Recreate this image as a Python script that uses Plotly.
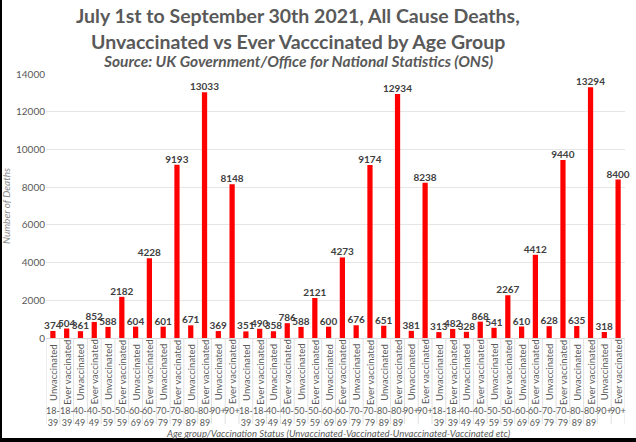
import plotly.graph_objects as go

# Deaths by age group and vaccination status, one block of 14 bars per month
months = ["July", "August", "September"]
age_groups = ["18-39", "40-49", "50-59", "60-69", "70-79", "80-89", "90+"]
statuses = ["Unvaccinated", "Ever vaccinated"]

deaths_july = [374, 504, 361, 852, 588, 2182, 604, 4228, 601, 9193, 671, 13033, 369, 8148]
deaths_august = [351, 490, 358, 786, 588, 2121, 600, 4273, 676, 9174, 651, 12934, 381, 8238]
deaths_september = [313, 482, 328, 868, 541, 2267, 610, 4412, 628, 9440, 635, 13294, 318, 8400]

y_ticks = [0, 2000, 4000, 6000, 8000, 10000, 12000, 14000]

W, H = 636, 442
ML, MR, MT, MB = 46, 11, 74, 104
PW, PH = W - ML - MR, H - MT - MB

GREY = "#595959"
FONT = "Lato"

values = deaths_july + deaths_august + deaths_september
status_labels = []
age_labels = []
for m in months:
    for age in age_groups:
        for s in statuses:
            status_labels.append(s)
            age_labels.append(age)
x = list(range(len(values)))

fig = go.Figure()
fig.add_trace(go.Bar(
    x=x, y=values,
    marker=dict(color="#FF0000", line=dict(width=0)),
    text=[str(v) for v in values],
    textposition="outside",
    constraintext="none",
    cliponaxis=False,
    textfont=dict(family=FONT, size=10, color="#404040", weight="bold"),
    hoverinfo="skip",
))

annotations = []
shapes = []
for i in x:
    # status label, rotated and centred in the tick band
    annotations.append(dict(
        x=i, xref="x", y=0, yref="paper", yshift=-34,
        text=status_labels[i], textangle=-90, showarrow=False,
        font=dict(family=FONT, size=9.5, color=GREY),
        xanchor="center", yanchor="middle",
    ))
    # age group label below
    a = age_labels[i]
    txt = a.replace("-", "-<br>") if "-" in a else a
    annotations.append(dict(
        x=i, xref="x", y=0, yref="paper", yshift=-65,
        text=txt, showarrow=False,
        font=dict(family=FONT, size=9, color=GREY),
        xanchor="center", yanchor="top",
    ))
for i in range(-1, len(values)):
    shapes.append(dict(
        type="line", xref="x", yref="paper",
        x0=i + 0.5, x1=i + 0.5, y0=0, y1=-86 / PH,
        line=dict(color="#E0E0E0", width=1),
    ))

# title lines and subtitle
title_x = (298 - ML) / PW
annotations.append(dict(
    x=title_x, xref="paper", y=1, yref="paper", yshift=MT - 15,
    text="<b>July 1st to September 30th 2021, All Cause Deaths,</b>",
    showarrow=False, xanchor="center", yanchor="middle",
    font=dict(family=FONT, size=19.5, color=GREY),
))
annotations.append(dict(
    x=title_x, xref="paper", y=1, yref="paper", yshift=MT - 41,
    text="<b>Unvaccinated vs Ever Vacccinated by Age Group</b>",
    showarrow=False, xanchor="center", yanchor="middle",
    font=dict(family=FONT, size=19.5, color=GREY),
))
annotations.append(dict(
    x=title_x, xref="paper", y=1, yref="paper", yshift=MT - 61,
    text="<i>Source: UK Government/Office for National Statistics (ONS)</i>",
    showarrow=False, xanchor="center", yanchor="middle",
    font=dict(family=FONT, size=15.5, color=GREY, weight="bold"),
))
# x axis title
annotations.append(dict(
    x=(338 - ML) / PW, xref="paper", y=0, yref="paper", yshift=-95,
    text="<i>Age group/Vaccination Status (Unvaccinated-Vaccinated-Unvaccinated-Vaccinated etc)</i>",
    showarrow=False, xanchor="center", yanchor="middle",
    font=dict(family=FONT, size=9.5, color=GREY),
))

# dark frame on the left and bottom edges of the image
shapes.append(dict(type="rect", xref="paper", yref="paper",
                   x0=-ML / PW, x1=-(ML - 2) / PW, y0=-MB / PH, y1=(H - MB) / PH,
                   fillcolor="black", line=dict(width=0)))
shapes.append(dict(type="rect", xref="paper", yref="paper",
                   x0=-ML / PW, x1=(W - ML) / PW, y0=-MB / PH, y1=-(MB - 4) / PH,
                   fillcolor="black", line=dict(width=0)))

fig.update_layout(
    width=W, height=H,
    margin=dict(l=ML, r=MR, t=MT, b=MB, autoexpand=False),
    paper_bgcolor="white", plot_bgcolor="white",
    bargap=0.62,
    showlegend=False,
    xaxis=dict(
        range=[-0.5, len(values) - 0.5],
        showticklabels=False, ticks="", showgrid=False, zeroline=False,
        showline=True, linecolor="#D9D9D9", linewidth=1,
    ),
    yaxis=dict(
        range=[0, 14000], tickvals=y_ticks, tickformat="d",
        showgrid=True, gridcolor="#E6E6E6", gridwidth=1,
        zeroline=False, showline=False, ticks="",
        tickfont=dict(family=FONT, size=10, color=GREY),
        title=dict(text="<i>Number of Deaths</i>", standoff=8,
                   font=dict(family=FONT, size=10, color="#8C8C8C")),
    ),
    annotations=annotations,
    shapes=shapes,
)

fig.write_html("out.html", config={"displayModeBar": False},
               post_script="document.body.style.margin='0';")
